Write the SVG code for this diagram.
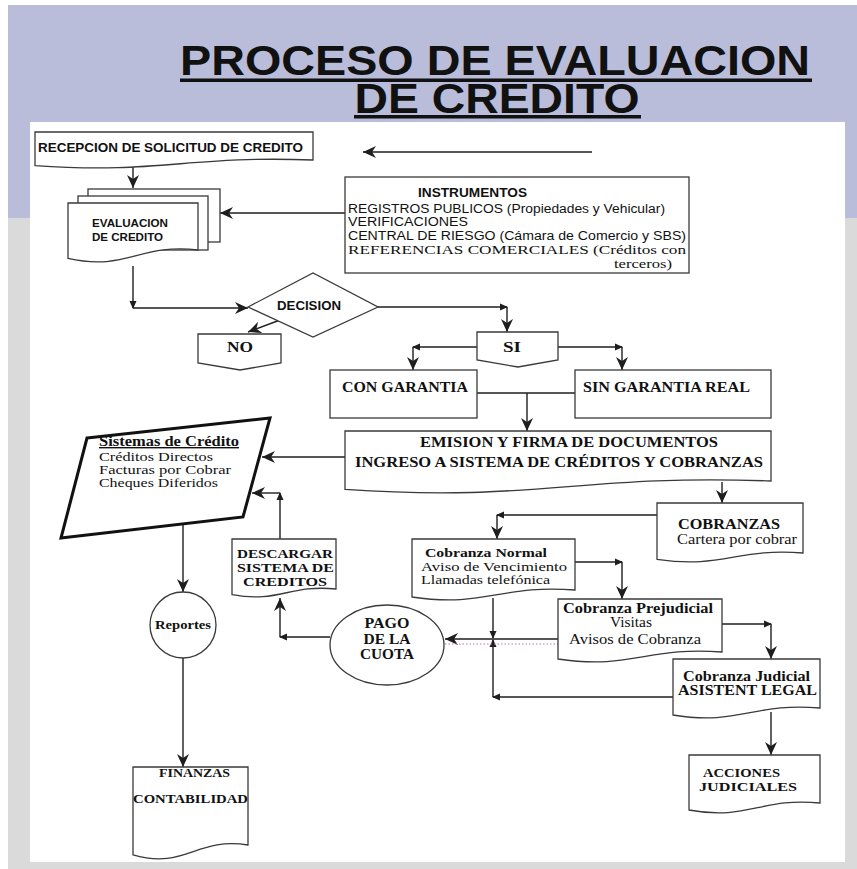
<svg xmlns="http://www.w3.org/2000/svg" width="857" height="869" viewBox="0 0 857 869">
<defs>
<style>
.ln{fill:none;stroke:#1e1e1e;stroke-width:1.4}
.bx{fill:#fff;stroke:#3a3a3a;stroke-width:1.3}
.sb{font-family:"Liberation Sans",Arial,sans-serif;font-weight:bold;fill:#111}
.s{font-family:"Liberation Sans",Arial,sans-serif;fill:#111}
.tb{font-family:"Liberation Serif","Times New Roman",serif;font-weight:bold;fill:#111}
.t{font-family:"Liberation Serif","Times New Roman",serif;fill:#111}
</style>
<marker id="ah" markerUnits="userSpaceOnUse" markerWidth="14" markerHeight="12" refX="13" refY="6" orient="auto"><path d="M0,0 L13,6 L0,12 L4,6 Z" fill="#1e1e1e"/></marker>
<marker id="as" markerUnits="userSpaceOnUse" markerWidth="8" markerHeight="8" refX="7" refY="4" orient="auto"><path d="M0,0.5 L8,4 L0,7.5 Z" fill="#1e1e1e"/></marker>
</defs>

<!-- background -->
<rect x="0" y="0" width="857" height="869" fill="#ffffff"/>
<rect x="8" y="5" width="849" height="213" fill="#b9bdd9"/>
<rect x="8" y="218" width="849" height="651" fill="#dadada"/>
<rect x="30" y="122" width="815" height="740" fill="#ffffff"/>

<!-- title -->
<g id="title">
<text class="sb" x="495" y="75" font-size="42" text-anchor="middle" textLength="630" lengthAdjust="spacingAndGlyphs">PROCESO DE EVALUACION</text>
<rect x="180" y="78.5" width="632" height="3.5" fill="#111"/>
<text class="sb" x="497" y="113" font-size="42" text-anchor="middle" textLength="285" lengthAdjust="spacingAndGlyphs">DE CREDITO</text>
<rect x="354" y="115" width="287" height="3.5" fill="#111"/>
</g>

<!-- connectors -->
<g id="connectors">
<line class="ln" x1="592" y1="152" x2="363" y2="152" marker-end="url(#ah)"/>
<line class="ln" x1="133" y1="166" x2="133" y2="188" marker-end="url(#ah)"/>
<line class="ln" x1="345" y1="213" x2="220" y2="213" marker-end="url(#ah)"/>
<line class="ln" x1="133" y1="266" x2="133" y2="308" marker-end="url(#as)"/>
<line class="ln" x1="133" y1="308" x2="248" y2="308" marker-end="url(#ah)"/>
<line class="ln" x1="280" y1="320" x2="248" y2="332" marker-end="url(#ah)"/>
<line class="ln" x1="378" y1="307" x2="507" y2="307" marker-end="url(#as)"/>
<line class="ln" x1="507" y1="307" x2="507" y2="332" marker-end="url(#ah)"/>
<line class="ln" x1="477" y1="347" x2="413" y2="347" marker-end="url(#as)"/>
<line class="ln" x1="413" y1="347" x2="413" y2="370" marker-end="url(#ah)"/>
<line class="ln" x1="558" y1="347" x2="622" y2="347" marker-end="url(#as)"/>
<line class="ln" x1="622" y1="347" x2="622" y2="370" marker-end="url(#ah)"/>
<line class="ln" x1="477" y1="393" x2="575" y2="393"/>
<line class="ln" x1="527" y1="393" x2="527" y2="431" marker-end="url(#ah)"/>
<line class="ln" x1="345" y1="457" x2="262" y2="457" marker-end="url(#ah)"/>
<line class="ln" x1="722" y1="482" x2="722" y2="503" marker-end="url(#ah)"/>
<line class="ln" x1="657" y1="515" x2="497" y2="515" marker-end="url(#as)"/>
<line class="ln" x1="497" y1="515" x2="497" y2="539" marker-end="url(#ah)"/>
<line class="ln" x1="575" y1="562" x2="622" y2="562" marker-end="url(#as)"/>
<line class="ln" x1="622" y1="562" x2="622" y2="599" marker-end="url(#ah)"/>
<line class="ln" x1="722" y1="624" x2="771" y2="624" marker-end="url(#as)"/>
<line class="ln" x1="771" y1="624" x2="771" y2="659" marker-end="url(#ah)"/>
<line class="ln" x1="771" y1="712" x2="771" y2="755" marker-end="url(#ah)"/>
<line class="ln" x1="493" y1="598" x2="493" y2="638" marker-end="url(#as)"/>
<line class="ln" x1="673" y1="697" x2="493" y2="697" marker-end="url(#as)"/>
<line class="ln" x1="493" y1="697" x2="493" y2="640" marker-end="url(#as)"/>
<line class="ln" x1="558" y1="639" x2="445" y2="639" marker-end="url(#ah)"/>
<line x1="410" y1="644" x2="572" y2="644" stroke="#c070b0" stroke-width="1.2" stroke-dasharray="1.5 2"/>
<line class="ln" x1="330" y1="637" x2="280" y2="637" marker-end="url(#as)"/>
<line class="ln" x1="280" y1="637" x2="280" y2="598" marker-end="url(#ah)"/>
<line class="ln" x1="280" y1="539" x2="280" y2="493" marker-end="url(#as)"/>
<line class="ln" x1="280" y1="493" x2="252" y2="493" marker-end="url(#ah)"/>
<line class="ln" x1="183" y1="524" x2="183" y2="592" marker-end="url(#ah)"/>
<line class="ln" x1="183" y1="658" x2="183" y2="767" marker-end="url(#ah)"/>
</g>

<!-- nodes -->
<g id="recepcion">
<path class="bx" d="M35,132 H313 V160 C188,155.2 160,174.4 35,165.6 Z"/>
<text class="sb" x="38" y="152" font-size="12" textLength="265" lengthAdjust="spacingAndGlyphs">RECEPCION DE SOLICITUD DE CREDITO</text>
</g>

<g id="evaluacion">
<rect class="bx" x="88" y="189" width="132" height="53"/>
<rect class="bx" x="78" y="196" width="130" height="54"/>
<path class="bx" d="M68,203 H198 V250 C139.5,243 126.5,271.6 68,258.4 Z"/>
<text class="sb" x="92" y="227" font-size="11.5" textLength="76" lengthAdjust="spacingAndGlyphs">EVALUACION</text>
<text class="sb" x="92" y="241" font-size="11.5" textLength="71" lengthAdjust="spacingAndGlyphs">DE CREDITO</text>
</g>

<g id="instrumentos">
<rect class="bx" x="345" y="177" width="344" height="96"/>
<text class="sb" x="418" y="197" font-size="12" textLength="109" lengthAdjust="spacingAndGlyphs">INSTRUMENTOS</text>
<text class="s" x="348" y="213" font-size="12" textLength="317" lengthAdjust="spacingAndGlyphs">REGISTROS PUBLICOS (Propiedades y  Vehicular)</text>
<text class="s" x="348" y="226" font-size="12" textLength="120" lengthAdjust="spacingAndGlyphs">VERIFICACIONES</text>
<text class="s" x="348" y="240" font-size="12" textLength="338" lengthAdjust="spacingAndGlyphs">CENTRAL DE RIESGO (Cámara de Comercio y SBS)</text>
<text class="t" x="348" y="254" font-size="13" textLength="338" lengthAdjust="spacingAndGlyphs">REFERENCIAS COMERCIALES (Créditos con</text>
<text class="t" x="614" y="268" font-size="13" textLength="58" lengthAdjust="spacingAndGlyphs">terceros)</text>
</g>

<g id="decision">
<polygon class="bx" points="248,307 313,273 378,307 313,337"/>
<text class="sb" x="309" y="310" font-size="12.5" text-anchor="middle" textLength="64" lengthAdjust="spacingAndGlyphs">DECISION</text>
</g>

<g id="no">
<polygon class="bx" points="198,334 281,334 281,363 240,370 198,363"/>
<text class="tb" x="240" y="352" font-size="14" text-anchor="middle" textLength="26" lengthAdjust="spacingAndGlyphs">NO</text>
</g>

<g id="si">
<polygon class="bx" points="477,332 558,332 558,360 518,367 477,360"/>
<text class="tb" x="512" y="352" font-size="14" text-anchor="middle" textLength="18" lengthAdjust="spacingAndGlyphs">SI</text>
</g>

<g id="con-garantia">
<rect class="bx" x="330" y="370" width="147" height="48"/>
<text class="tb" x="342" y="392" font-size="14" textLength="126" lengthAdjust="spacingAndGlyphs">CON GARANTIA</text>
</g>

<g id="sin-garantia">
<rect class="bx" x="575" y="370" width="196" height="48"/>
<text class="tb" x="583" y="392" font-size="14" textLength="167" lengthAdjust="spacingAndGlyphs">SIN GARANTIA REAL</text>
</g>

<g id="emision">
<path class="bx" d="M345,431 H771 V481 C579.3,473.8 536.7,502.6 345,489.4 Z"/>
<text class="tb" x="420" y="447" font-size="14" textLength="298" lengthAdjust="spacingAndGlyphs">EMISION Y FIRMA DE DOCUMENTOS</text>
<text class="tb" x="355" y="467" font-size="14" textLength="408" lengthAdjust="spacingAndGlyphs">INGRESO A SISTEMA DE CRÉDITOS Y COBRANZAS</text>
</g>

<g id="sistemas">
<polygon points="87,438 270,418 243,517 61,538" fill="#fff" stroke="#111" stroke-width="3"/>
<text class="tb" x="99" y="446" font-size="14" textLength="140" lengthAdjust="spacingAndGlyphs" text-decoration="underline">Sistemas de Crédito</text>
<text class="t" x="99" y="461" font-size="13" textLength="114" lengthAdjust="spacingAndGlyphs">Créditos Directos</text>
<text class="t" x="99" y="474" font-size="13" textLength="132" lengthAdjust="spacingAndGlyphs">Facturas por Cobrar</text>
<text class="t" x="99" y="487" font-size="13" textLength="119" lengthAdjust="spacingAndGlyphs">Cheques Diferidos</text>
</g>

<g id="descargar">
<path class="bx" d="M232,539 H336 V589 C289.2,584.2 278.8,603.4 232,594.6 Z"/>
<text class="tb" x="237" y="558" font-size="13.5" textLength="96" lengthAdjust="spacingAndGlyphs">DESCARGAR</text>
<text class="tb" x="237" y="572" font-size="13.5" textLength="97" lengthAdjust="spacingAndGlyphs">SISTEMA DE</text>
<text class="tb" x="243" y="586" font-size="13.5" textLength="84" lengthAdjust="spacingAndGlyphs">CREDITOS</text>
</g>

<g id="reportes">
<circle class="bx" cx="183" cy="625" r="33"/>
<text class="tb" x="183" y="629" font-size="13" text-anchor="middle" textLength="56" lengthAdjust="spacingAndGlyphs">Reportes</text>
</g>

<g id="finanzas">
<path class="bx" d="M133,767 H248 V845 C196.25,836.6 184.75,870.2 133,854.8 Z"/>
<text class="tb" x="194.5" y="777" font-size="12" text-anchor="middle" textLength="71" lengthAdjust="spacingAndGlyphs">FINANZAS</text>
<text class="tb" x="133" y="803" font-size="12" textLength="115" lengthAdjust="spacingAndGlyphs">CONTABILIDAD</text>
</g>

<g id="cobranzas">
<path class="bx" d="M657,503 H803 V553 C737.3,547.6 722.7,569.2 657,559.3 Z"/>
<text class="tb" x="678" y="529" font-size="15" textLength="102" lengthAdjust="spacingAndGlyphs">COBRANZAS</text>
<text class="t" x="677" y="544" font-size="14" textLength="120" lengthAdjust="spacingAndGlyphs">Cartera por cobrar</text>
</g>

<g id="cobranza-normal">
<path class="bx" d="M412,539 H575 V590 C501.65,584 485.35,608 412,597 Z"/>
<text class="tb" x="425" y="557" font-size="13.5" textLength="122" lengthAdjust="spacingAndGlyphs">Cobranza Normal</text>
<text class="t" x="421" y="571" font-size="13.5" textLength="146" lengthAdjust="spacingAndGlyphs">Aviso de Vencimiento</text>
<text class="t" x="421" y="584" font-size="13.5" textLength="129" lengthAdjust="spacingAndGlyphs">Llamadas telefónica</text>
</g>

<g id="cobranza-prejudicial">
<path class="bx" d="M558,599 H722 V652 C648.2,646 631.8,670 558,659 Z"/>
<text class="tb" x="563" y="613" font-size="14" textLength="150" lengthAdjust="spacingAndGlyphs">Cobranza Prejudicial</text>
<text class="t" x="631" y="627" font-size="14" text-anchor="middle" textLength="42" lengthAdjust="spacingAndGlyphs">Visitas</text>
<text class="t" x="569" y="644" font-size="14" textLength="132" lengthAdjust="spacingAndGlyphs">Avisos de Cobranza</text>
</g>

<g id="pago">
<ellipse class="bx" cx="387" cy="645" rx="57" ry="40"/>
<text class="tb" x="387" y="628" font-size="14" text-anchor="middle" textLength="45" lengthAdjust="spacingAndGlyphs">PAGO</text>
<text class="tb" x="387" y="644" font-size="14" text-anchor="middle" textLength="47" lengthAdjust="spacingAndGlyphs">DE LA</text>
<text class="tb" x="387" y="659" font-size="14" text-anchor="middle" textLength="54" lengthAdjust="spacingAndGlyphs">CUOTA</text>
</g>

<g id="cobranza-judicial">
<path class="bx" d="M673,659 H820 V708 C753.85,702 739.15,726 673,715 Z"/>
<text class="tb" x="683" y="681" font-size="14" textLength="127" lengthAdjust="spacingAndGlyphs">Cobranza Judicial</text>
<text class="tb" x="678" y="695" font-size="14" textLength="139" lengthAdjust="spacingAndGlyphs">ASISTENT LEGAL</text>
</g>

<g id="acciones">
<path class="bx" d="M689,755 H820 V803 C761,797 748,821 689,810 Z"/>
<text class="tb" x="703" y="777" font-size="13" textLength="77" lengthAdjust="spacingAndGlyphs">ACCIONES</text>
<text class="tb" x="699" y="791" font-size="13" textLength="98" lengthAdjust="spacingAndGlyphs">JUDICIALES</text>
</g>
</svg>
